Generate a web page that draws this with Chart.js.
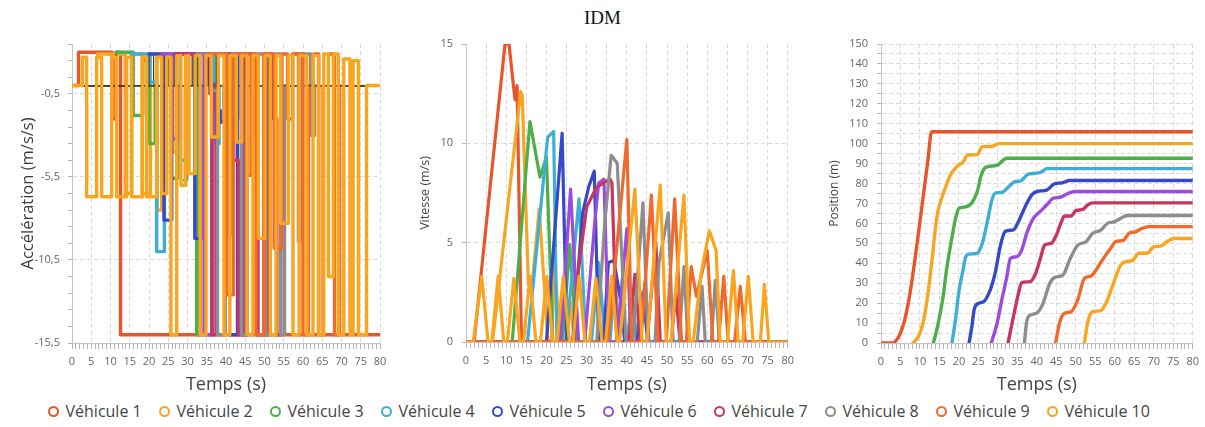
<!DOCTYPE html>
<html><head><meta charset="utf-8">
<script src="https://cdn.jsdelivr.net/npm/chart.js@4/dist/chart.umd.min.js"></script>
<style>
html,body{margin:0;padding:0;background:#fff;}
#wrap{position:relative;width:1205px;height:427px;overflow:hidden;font-family:"Open Sans",sans-serif;}
#title{position:absolute;left:0;top:6px;width:1205px;text-align:center;font-family:"Liberation Serif","Times New Roman",serif;font-size:19px;line-height:24px;color:#111;}
canvas{position:absolute;top:0;}
#legend{position:absolute;left:0;top:400px;width:1205px;display:flex;justify-content:center;font-size:16px;color:#444;line-height:22px;}
.item{display:flex;align-items:center;width:111px;white-space:nowrap;}
.dot{width:7px;height:7px;border-radius:50%;border:2.5px solid;margin-right:7px;box-sizing:content-box;}
</style></head>
<body>
<div id="wrap">
<div id="title">IDM</div>
<canvas id="c1" width="400" height="400" style="left:0px"></canvas>
<canvas id="c2" width="400" height="400" style="left:400px"></canvas>
<canvas id="c3" width="405" height="400" style="left:800px"></canvas>
<div id="legend"></div>
</div>
<script>
// ---------- categories / names ----------
const vehicles = ['Véhicule 1','Véhicule 2','Véhicule 3','Véhicule 4','Véhicule 5','Véhicule 6','Véhicule 7','Véhicule 8','Véhicule 9','Véhicule 10'];
const colors = ['#e9552b','#f5a623','#4caf4a','#3eaed4','#3549c9','#9b4cdc','#c9365d','#8d8d8d','#ef6a2c','#f9a520'];

// ---------- tick labels ----------
const accelLabelValues = [-15.5,-10.5,-5.5,-0.5];
const speedTickValues = [0,5,10,15];
const timeLabelStep = 5;

// ---------- Accélération (t, a) : step values ----------
const acc1 = [[0,0],[1.7,2.0],[10.4,-2.0],[11.4,2.0],[12.6,-15],[80,-15]];
const acc2 = [[0,0],[6.6,1.9],[13.8,-6.5],[15.5,1.9],[18.2,-6.5],[20.4,0],[21.2,1.9],[22.1,-7.5],[23.3,0],[25,1.9],[26,-4],[27,0],[80,0]];
const acc3 = [[0,0],[11.5,2.0],[15.9,-1.8],[18.4,1.5],[20.0,-3.5],[21.6,0],[24,1.9],[25.8,-5.6],[27.5,0],[29.2,-5.7],[29.8,0],[31.5,1.9],[32.4,-15],[33.3,0],[80,0]];
const acc4 = [[0,0],[15.3,1.9],[20.3,0.2],[22.0,-10.0],[24.0,1.9],[28.1,-4.5],[29.8,0],[31.2,1.9],[33,-5.0],[34.6,0],[35.8,1.9],[37,-3.5],[38.2,0],[40,1.9],[41.3,-3],[42.6,0],[80,0]];
const acc5 = [[0,0],[20.0,1.9],[23.9,-8.1],[25.9,0],[26.5,1.9],[31.9,-9.2],[33.5,0],[34.2,1.9],[35.4,0.1],[36.8,-1.5],[38.5,-2.2],[39.5,0],[41.1,-15],[43.0,1.9],[44,-2],[45.2,0],[80,0]];
const acc6 = [[0,0],[23.5,1.9],[26,-3.2],[28,0],[29.5,1.9],[34.3,-15],[36.6,0],[37.5,1.9],[40,-1.6],[41,0],[43,1.9],[44.5,-15],[45.5,0],[80,0]];
const acc7 = [[0,0],[26.8,1.9],[35.8,-0.5],[36.3,-15],[37.5,0],[40.5,1.9],[42,-4.5],[43.3,-15],[45,1.9],[47.2,-3],[48.3,-15],[51,1.9],[52.2,-2],[53.2,-15],[54.2,0],[80,0]];
const acc8 = [[0,0],[32.5,1.9],[36.1,-0.3],[37.8,-15],[39.8,0],[40.6,-9.0],[41.5,1.9],[44,-15],[45.3,0],[47,1.9],[50.3,-15],[51.5,0],[53,1.9],[54.2,-15],[55.2,0],[57.5,1.9],[58.8,-9.4],[59.7,1.9],[62,-3.0],[63,0],[80,0]];
const acc9 = [[0,0],[35.3,1.9],[40.2,-12.6],[41.9,1.9],[45.4,-5.4],[46.5,1.9],[47.8,-15],[49.8,1.9],[52.5,-9.8],[54.5,1.9],[56,-2.0],[57.3,1.9],[60,-15],[61.4,0],[62.8,1.9],[64.1,-15],[65.2,0],[66.8,1.9],[68.2,-15],[69.5,0],[80,0]];
const acc10 = [[0,0],[2.7,1.7],[3.8,-6.7],[6.4,1.7],[7.7,-6.7],[10.3,1.7],[11.6,-6.7],[14.2,1.7],[15.5,-6.7],[18.3,1.7],[19.4,-6.7],[22.0,1.7],[23.3,-6.5],[24.6,1.7],[25.7,-15],[27.2,1.8],[28.3,-6.0],[29.5,1.8],[30.4,-5.3],[32.0,1.8],[33.3,-15],[34.8,1.8],[36.2,-3.1],[38.0,1.8],[39.5,-15],[41.0,1.8],[42.7,-3.4],[44.1,1.8],[45.5,-15],[47.0,1.8],[48.4,-9.2],[50.1,1.8],[51.5,-15],[53.0,1.8],[54.2,-8.3],[56.2,1.8],[57.4,-15],[59.0,1.8],[61.0,-15],[62.6,1.8],[64.0,-15],[65.4,1.9],[66.6,-11.5],[67.9,1.9],[69.2,-15],[70.6,1.6],[72.2,-15],[73.0,1.5],[74.4,-15],[76.5,0],[80,0]];

// ---------- Vitesse (t, v) ----------
const vel1 = [[0,0],[2,0],[9.7,15],[10.7,15],[11.8,12.9],[12.2,12.2],[12.7,12.9],[13.8,0],[80,0]];
const vel2 = [[0,0],[6.6,0],[13.6,12.6],[14.0,12.4],[15.5,3.0],[16.3,2.6],[18.2,6.7],[20.4,0],[21.2,0],[22.1,4.0],[23.3,0],[25,0],[26,2],[27,0],[80,0]];
const vel3 = [[0,0],[11.5,0],[15.9,11.1],[18.4,8.3],[20.0,9.3],[21.6,0],[24,0],[25.8,4.9],[27.5,0],[80,0]];
const vel4 = [[0,0],[15.3,0],[20.3,10.3],[21.8,10.6],[22.6,0],[24.8,0],[28.1,7.2],[29.8,0],[31.2,0],[33,4.0],[34.6,0],[35.8,0],[37,3.2],[38.2,0],[40,0],[41.3,2.2],[42.6,0],[80,0]];
const vel5 = [[0,0],[20,0],[23.9,10.5],[25.1,0],[26.5,0],[29,6.5],[30.5,7.8],[31.9,8.6],[33,0],[34.2,0],[35.4,4.0],[36.8,4.1],[38.5,2.0],[39.5,0],[42.5,0],[44,2.5],[45.2,0],[80,0]];
const vel6 = [[0,0],[23.5,0],[26,7.7],[28,0],[29.5,0],[32,6],[33,8],[34.3,8.2],[35.5,0],[37.5,0],[40,5.7],[41,0],[43,0],[44.5,3],[45.5,0],[80,0]];
const vel7 = [[0,0],[26.8,0],[28,3.7],[30,6.8],[32.5,7.8],[35.8,8.2],[36.3,8.0],[37.5,0],[40.5,0],[42,3.4],[43.3,0],[45,0],[47.2,5.0],[48.3,0],[51,0],[52.2,2.5],[53.2,0],[80,0]];
const vel8 = [[0,0],[32.5,0],[34.5,6],[36.1,9.4],[37.6,9.0],[38.2,6.5],[39.8,0],[41.5,0],[44,7.0],[45.3,0],[47,0],[48,4],[50.3,6.5],[51.5,0],[53,0],[54.2,3.8],[55.2,0],[57.5,0],[58.7,2.8],[59.5,0],[61,0],[62,3.1],[63,0],[80,0]];
const vel9 = [[0,0],[35.3,0],[40,10.2],[41.2,0],[43.5,0],[46.1,7.4],[47.8,0],[49.8,0],[51.9,7.2],[53.6,0],[54.8,0],[56,3.8],[57.3,2.3],[60,4.6],[61.4,0],[62.8,0],[64.1,3.3],[65.2,0],[66.8,0],[68.2,2.8],[69.5,0],[80,0]];
const vel10 = [[0,0],[1.8,0],[3.9,3.3],[5.5,0],[6.4,0],[8.0,3.3],[9.4,0],[10.3,0],[11.9,3.2],[13.4,0],[14.3,0],[15.9,3.3],[17.4,0],[18.5,0],[20.1,3.3],[21.6,0],[22.6,0],[24.2,3.3],[25.7,0],[26.6,0],[28.1,3.3],[29.6,0],[30.7,0],[32.3,3.2],[33.8,0],[34.7,0],[36.2,3.3],[37.6,0],[38.2,0],[42,7.7],[43.8,0],[45,0],[48.3,7.9],[49.8,0],[51,0],[54.2,7.4],[55.6,0],[56.5,0],[58.5,3.5],[60.5,5.6],[62.2,4.6],[63.2,0],[65,0],[66.5,3.6],[67.7,0],[68.8,0],[70.2,3.3],[71.4,0],[73.2,0],[74.2,2.9],[75.3,0],[80,0]];

// ---------- Position (t, p) ----------
const pos1 = [[0,0],[3,0],[4,1.5],[5,5],[6,11],[7,20],[8,32],[9,46],[10,61],[11,76],[12,91],[13,106],[80,106]];
const pos2 = [[8.2,0],[9,1.5],[10,5],[11,12],[12,24],[13,40],[14,58],[14.6,66],[15.8,74],[17,80.5],[18,85],[19,87.5],[20,89.5],[21,90.5],[22.2,94.3],[24.7,94.5],[26,98.5],[28.5,98.6],[30.2,100],[80,100]];
const pos3 = [[13.4,0],[14,4],[15,13],[16,24],[16.7,35],[17.5,45],[18.4,55],[19.2,63],[20,67.5],[21.7,68.3],[23.4,70.5],[24.7,76],[25.7,84],[26.5,87.5],[27.5,88.5],[30,89.3],[31.2,91.5],[32.3,92.7],[80,92.7]];
const pos4 = [[18.2,0],[19,10],[20,26],[21,36],[21.7,43],[22.6,44.6],[24.7,45],[26,50],[27.2,60],[28.5,72],[29.4,75.3],[31,75.5],[32.3,77.5],[34.5,81],[35.7,81.2],[37.8,84.7],[40,85.2],[41.5,86.2],[42.5,87.5],[80,87.5]];
const pos5 = [[22.6,0],[23.3,8],[23.9,16.6],[24.7,19.6],[26.4,20.8],[27.7,25],[28.6,30],[29.4,36],[30.6,48.5],[31.9,56],[34,56.8],[35.3,61],[37,68.4],[38.7,74.3],[40,76],[42.5,76.7],[44.6,80],[46.3,80.3],[48.4,81.5],[80,81.5]];
const pos6 = [[28.3,0],[29.8,9.9],[31,21.6],[32.3,33.3],[33.2,42.5],[34.9,43.3],[36.1,46.6],[37.4,55],[39.1,62.5],[40.8,65.9],[42.5,69.2],[44.2,72.6],[45.9,73.1],[48,75],[49.7,76],[80,76]];
const pos7 = [[32.6,0],[34,13.3],[35.3,25],[36.1,30.3],[38.3,30.8],[39.5,34.1],[40.8,41.6],[42,49.1],[43.7,50],[45,54.1],[46.3,60.8],[47.1,63.7],[48.8,63.7],[50,66.4],[51.8,67],[53,69.2],[54.3,70.3],[80,70.3]];
const pos8 = [[36.8,0],[37.4,10.7],[38.3,14],[39.9,14.9],[41.6,19.9],[43.3,29.9],[44.6,32.9],[46.7,34.1],[48.4,41.6],[50.5,49.1],[52.6,50.8],[54.3,55],[56.4,56.6],[58.1,60],[59.8,60.8],[62.3,63.3],[63.2,64],[80,64]];
const pos9 = [[44.8,0],[45.9,10.7],[47.1,14.9],[48.8,15.7],[50.5,21.6],[52.2,32.4],[53.9,33.6],[55.2,36.6],[56.8,41.6],[58.9,47.4],[60.2,50.8],[62.3,51.6],[63.6,55],[65.3,55.8],[67,57.5],[68.7,58.4],[80,58.4]];
const pos10 = [[52.2,0],[53,9.9],[54.3,15.7],[56.4,16.2],[58.1,21.6],[59.8,30.8],[61.5,39.1],[62.8,40.8],[64.5,41.3],[66.2,45],[68.3,45],[70,48.3],[71.7,48.6],[73.4,50.8],[75.1,52.4],[80,52.4]];

const accelSeries = [acc1,acc2,acc3,acc4,acc5,acc6,acc7,acc8,acc9,acc10];
const speedSeries = [vel1,vel2,vel3,vel4,vel5,vel6,vel7,vel8,vel9,vel10];
const posSeries = [pos1,pos2,pos3,pos4,pos5,pos6,pos7,pos8,pos9,pos10];

// ---------- rendering ----------
const FONT = '"Open Sans", "Noto Sans", sans-serif';
const GRID = '#dadada';
const NONE = 'rgba(0,0,0,0)';
const TICK = '#666';
const toXY = a => a.map(p => ({x:p[0], y:p[1]}));

function xAxis(h){
  return {
    type:'linear', min:0, max:80,
    afterBuildTicks: s => { const t=[]; for(let v=0; v<=80; v++) t.push({value:v}); s.ticks=t; },
    afterFit: s => { s.height = h; },
    ticks:{autoSkip:false, maxRotation:0, minRotation:0, padding:6, color:TICK, font:{family:FONT,size:11},
      callback: v => (v % timeLabelStep === 0 ? String(v) : '')},
    grid:{color: c => (c.tick && c.tick.value % timeLabelStep === 0 && c.tick.value > 0) ? GRID : NONE,
      tickColor:'#b5b5b5', tickLength:6, lineWidth:1, tickWidth:1},
    border:{display:true, color:'#c4c4c4', width:1, dash:[4,3]},
    title:{display:true, text:'Temps (s)', color:'#444', font:{family:FONT,size:18}, padding:{top:0,bottom:4}}
  };
}

function baseOptions(){
  return {responsive:false, animation:false, devicePixelRatio:1,
    plugins:{legend:{display:false}, tooltip:{enabled:false}},
    elements:{point:{radius:0}}};
}

// Chart 1 : accélération
const o1 = baseOptions();
o1.layout = {padding:{left:0,right:20,top:44,bottom:0}};
o1.scales = {
  x: xAxis(57),
  y: {type:'linear', min:-15.5, max:2.5,
    afterBuildTicks: s => { const t=[]; for(let v=-15.5; v<=2.5; v+=1) t.push({value:v}); s.ticks=t; },
    afterFit: s => { s.width = 72; },
    ticks:{autoSkip:false, padding:8, color:TICK, font:{family:FONT,size:11},
      callback: v => accelLabelValues.includes(v) ? String(v).replace('.', ',') : ''},
    grid:{color: c => (c.tick && accelLabelValues.includes(c.tick.value) && c.tick.value > -15.5) ? GRID : NONE,
      tickColor:'#b5b5b5', tickLength:4},
    border:{display:true, color:'#c4c4c4', dash:[4,3]},
    title:{display:true, text:'Accélération (m/s/s)', color:'#3a3a3a', font:{family:FONT,size:16.5}, padding:{top:18,bottom:0}}
  }
};
new Chart(document.getElementById('c1'), {
  type:'line',
  data:{datasets: accelSeries.map((s,i) => {
    const ds = {label:vehicles[i], data:toXY(s), borderColor:colors[i], backgroundColor:colors[i],
      stepped:true, borderWidth:3.4, borderJoinStyle:'round', borderCapStyle:'round', fill:false, order:10-i};
    if (i > 0 && i < 9) ds.segment = {
      borderColor: c => c.p0.parsed.y === 0 ? '#3a3a3a' : undefined,
      borderWidth: c => c.p0.parsed.y === 0 ? 1.2 : undefined };
    return ds; })},
  options:o1
});

// Chart 2 : vitesse
const o2 = baseOptions();
o2.layout = {padding:{left:0,right:12,top:44,bottom:0}};
o2.scales = {
  x: xAxis(58),
  y: {type:'linear', min:0, max:15,
    afterBuildTicks: s => { s.ticks = speedTickValues.map(v => ({value:v})); },
    afterFit: s => { s.width = 66; },
    ticks:{padding:9, color:TICK, font:{family:FONT,size:11}},
    grid:{color: c => (c.tick && c.tick.value > 0 && c.tick.value < 15) ? GRID : NONE, tickColor:'#b5b5b5', tickLength:4},
    border:{display:true, color:'#c4c4c4', dash:[4,3]},
    title:{display:true, text:'Vitesse (m/s)', color:'#444', font:{family:FONT,size:12.5}, padding:{top:18,bottom:0}}
  }
};
new Chart(document.getElementById('c2'), {
  type:'line',
  data:{datasets: speedSeries.map((s,i) => ({label:vehicles[i], data:toXY(s), borderColor:colors[i], backgroundColor:colors[i],
    tension:0, borderWidth:3.2, borderJoinStyle:'round', borderCapStyle:'round', fill:false, order:10-i}))},
  options:o2
});

// Chart 3 : position
const o3 = baseOptions();
o3.layout = {padding:{left:0,right:9,top:44,bottom:0}};
o3.scales = {
  x: xAxis(57),
  y: {type:'linear', min:0, max:150,
    afterBuildTicks: s => { const t=[]; for(let v=0; v<=150; v+=5) t.push({value:v}); s.ticks=t; },
    afterFit: s => { s.width = 81; },
    ticks:{autoSkip:false, padding:9, color:TICK, font:{family:FONT,size:11},
      callback: v => (v % 10 === 0 ? String(v) : '')},
    grid:{color: c => (c.tick && c.tick.value > 0) ? GRID : NONE, tickColor:'#b5b5b5', tickLength:4},
    border:{display:true, color:'#c4c4c4', dash:[4,3]},
    title:{display:true, text:'Position (m)', color:'#444', font:{family:FONT,size:12}, padding:{top:27,bottom:0}}
  }
};
new Chart(document.getElementById('c3'), {
  type:'line',
  data:{datasets: posSeries.map((s,i) => ({label:vehicles[i], data:toXY(s), borderColor:colors[i], backgroundColor:colors[i],
    cubicInterpolationMode:'monotone', borderWidth:3.4, borderJoinStyle:'round', borderCapStyle:'round', fill:false, order:10-i}))},
  options:o3
});

// Légende
const lg = document.getElementById('legend');
vehicles.forEach((name,i) => {
  const it = document.createElement('div'); it.className='item';
  const d = document.createElement('span'); d.className='dot'; d.style.borderColor = colors[i];
  const t = document.createElement('span'); t.textContent = name;
  it.appendChild(d); it.appendChild(t); lg.appendChild(it);
});
</script>
</body></html>
